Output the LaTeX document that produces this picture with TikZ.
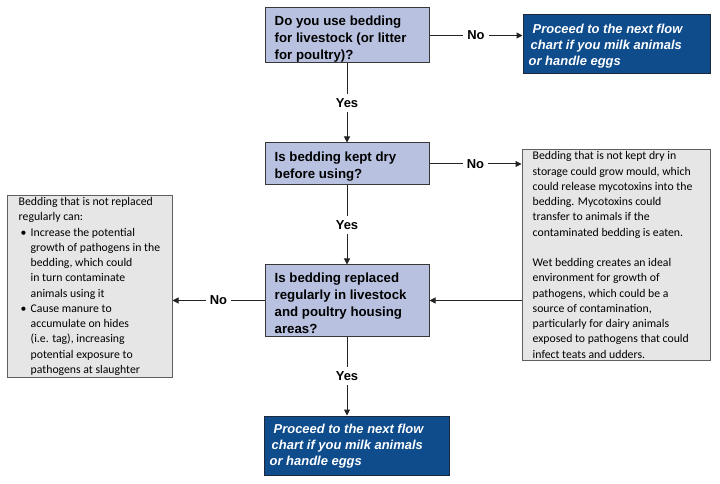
\documentclass[tikz,border=0pt]{standalone}
\usepackage{fontspec}
\setmainfont{Liberation Sans}
\newfontfamily\notefont{Carlito}
\usetikzlibrary{arrows.meta}
\definecolor{qfill}{RGB}{184,194,224}
\definecolor{qdraw}{RGB}{55,55,55}
\definecolor{bfill}{RGB}{14,76,140}
\definecolor{bdraw}{RGB}{30,40,60}
\definecolor{nfill}{RGB}{230,230,230}
\definecolor{ndraw}{RGB}{95,95,95}
\definecolor{lcol}{RGB}{35,35,35}
\begin{document}
\begin{tikzpicture}[x=1bp,y=-1bp,
  qbox/.style={draw=qdraw, fill=qfill, line width=1bp, inner sep=0pt, minimum width=164bp},
  qtext/.style={anchor=west, inner sep=0pt, align=left, font=\fontsize{13.3}{17}\selectfont\bfseries},
  bluebox/.style={draw=bdraw, fill=bfill, line width=1bp, inner sep=0pt},
  btext/.style={anchor=west, inner sep=0pt, text=white, align=left,
    font=\fontsize{13}{16}\selectfont\bfseries\itshape},
  notebox/.style={draw=ndraw, fill=nfill, line width=1bp, inner sep=0pt},
  ntext/.style={anchor=west, inner sep=0pt, align=left, font=\notefont\fontsize{11.8}{15.3}\selectfont},
  conn/.style={draw=lcol, line width=1bp},
  arr/.style={conn, -{Triangle[length=6bp,width=6bp]}},
  lbl/.style={fill=white, inner sep=4bp, font=\fontsize{13}{15}\selectfont\bfseries, text=black}
]
\useasboundingbox[fill=white] (0,0) rectangle (720,484);

% boxes
\node[qbox, minimum height=55bp] (q1) at (347,35.5) {};
\node[bluebox, minimum width=187bp, minimum height=59bp] (b1) at (616.5,44.5) {};
\node[qbox, minimum height=42bp] (q2) at (347,164) {};
\node[notebox, minimum width=188bp, minimum height=210bp] (rn) at (616,255) {};
\node[qbox, minimum height=71bp] (q3) at (347,300.5) {};
\node[notebox, minimum width=164bp, minimum height=181bp] (ln) at (90,286.5) {};
\node[bluebox, minimum width=185bp, minimum height=59bp] (b2) at (356.5,445.5) {};

% texts
\node[qtext] (t1) at ([xshift=10bp,yshift=-4bp]q1.west)
  {Do you use bedding\\for livestock (or litter\\for poultry)?};
\node[qtext] (t2) at ([xshift=10bp,yshift=-3bp]q2.west)
  {Is bedding kept dry\\before using?};
\node[qtext] (t3) at ([xshift=10bp,yshift=-3bp]q3.west)
  {Is bedding replaced\\regularly in livestock\\and poultry housing\\areas?};
\node[btext] (tb1) at ([xshift=6bp,yshift=-2bp]b1.west)
  {\hspace*{4bp}Proceed to the next flow\\\hspace*{2bp}chart if you milk animals\\or handle eggs};
\node[btext] (tb2) at ([xshift=6bp,yshift=-1bp]b2.west)
  {\hspace*{4bp}Proceed to the next flow\\\hspace*{2bp}chart if you milk animals\\or handle eggs};
\node[ntext] (trn) at ([xshift=11bp]rn.west)
  {Bedding that is not kept dry in\\storage could grow mould, which\\could release mycotoxins into the\\bedding. Mycotoxins could\\transfer to animals if the\\contaminated bedding is eaten.\\[15.3bp]
   Wet bedding creates an ideal\\environment for growth of\\pathogens, which could be a\\source of contamination,\\particularly for dairy animals\\exposed to pathogens that could\\infect teats and udders.};
\node[ntext] (tln) at ([xshift=11bp]ln.west)
  {Bedding that is not replaced\\regularly can:\\
   \makebox[12bp][l]{\hspace*{2bp}\textbullet}Increase the potential\\
   \hspace*{12bp}growth of pathogens in the\\
   \hspace*{12bp}bedding, which could\\
   \hspace*{12bp}in turn contaminate\\
   \hspace*{12bp}animals using it\\
   \makebox[12bp][l]{\hspace*{2bp}\textbullet}Cause manure to\\
   \hspace*{12bp}accumulate on hides\\
   \hspace*{12bp}(i.e. tag), increasing\\
   \hspace*{12bp}potential exposure to\\
   \hspace*{12bp}pathogens at slaughter};

% connectors
\draw[arr] (q1.east) -- node[lbl]{No} (b1.west |- q1.east);
\draw[arr] (q1.south) -- node[lbl]{Yes} (q2.north);
\draw[arr] (q2.east) -- node[lbl]{No} (rn.west |- q2.east);
\draw[arr] (q2.south) -- node[lbl]{Yes} (q3.north);
\draw[arr] (rn.west |- q3.east) -- (q3.east);
\draw[arr] (q3.west) -- node[lbl]{No} (ln.east |- q3.west);
\draw[arr] (q3.south) -- node[lbl]{Yes} (q3.south |- b2.north);
\end{tikzpicture}
\end{document}
